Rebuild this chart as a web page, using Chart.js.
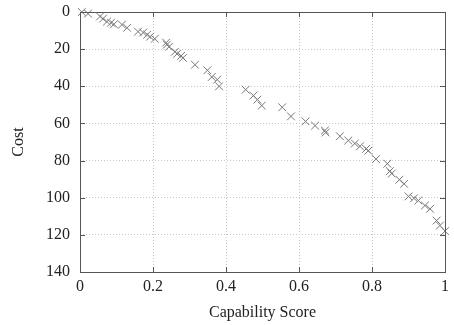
<!DOCTYPE html>
<html lang="en">
<head>
    <meta charset="UTF-8">
    <title>Cost vs Capability Score</title>
    <script src="https://cdn.jsdelivr.net/npm/chart.js"></script>
    <style>
        body {
            margin: 0;
            background: #fff;
        }
        .chart-box {
            width: 454px;
            height: 325px;
        }
    </style>
</head>
<body>
    <div class="chart-box">
        <canvas id="costChart" width="454" height="325"></canvas>
    </div>

    <script>
        // values
        const capabilityScore = [
            0.005, 0.022, 0.055, 0.063, 0.074, 0.085, 0.093, 0.115, 0.129, 0.159,
            0.173, 0.184, 0.192, 0.205, 0.236, 0.238, 0.244, 0.26, 0.266, 0.277,
            0.282, 0.315, 0.349, 0.361, 0.376, 0.381, 0.454, 0.475, 0.486, 0.498,
            0.554, 0.578, 0.618, 0.644, 0.671, 0.673, 0.712, 0.735, 0.753, 0.767,
            0.784, 0.79, 0.811, 0.842, 0.849, 0.854, 0.875, 0.888, 0.9, 0.915,
            0.927, 0.945, 0.959, 0.977, 0.986, 1.0
        ];
        const cost = [
            0, 0.9, 2.4, 3.6, 5.2, 5.8, 6.6, 6.8, 8.5, 10.6,
            11.1, 12.2, 13.3, 14.4, 16.5, 17.6, 18.7, 21.4, 22.5, 23.6,
            24.7, 28.4, 31.4, 35, 36.4, 40, 41.8, 45, 47.2, 50.4,
            51.3, 56.2, 58.9, 61.2, 63.8, 64.9, 66.9, 69.2, 70.8, 72.3,
            73.7, 74.7, 79.2, 81.7, 85.7, 87, 90.3, 92.5, 99.3, 100.3,
            101.5, 104.2, 106, 112.3, 115, 118
        ];
        const xTicks = [0, 0.2, 0.4, 0.6, 0.8, 1];
        const yTicks = [0, 20, 40, 60, 80, 100, 120, 140];

        const points = capabilityScore.map((x, i) => ({ x: x, y: cost[i] }));
        const serif = "'Liberation Serif', 'DejaVu Serif', serif";

        // full frame with short inward tick marks on all four sides
        const framePlugin = {
            id: 'frame',
            afterDatasetsDraw(chart) {
                const ctx = chart.ctx;
                const a = chart.chartArea;
                const xs = chart.scales.x;
                const ys = chart.scales.y;
                const len = 5;
                ctx.save();
                ctx.strokeStyle = '#555';
                ctx.lineWidth = 1;
                ctx.beginPath();
                xTicks.forEach(v => {
                    const px = Math.round(xs.getPixelForValue(v)) + 0.5;
                    ctx.moveTo(px, a.bottom); ctx.lineTo(px, a.bottom - len);
                    ctx.moveTo(px, a.top); ctx.lineTo(px, a.top + len);
                });
                yTicks.forEach(v => {
                    const py = Math.round(ys.getPixelForValue(v)) + 0.5;
                    ctx.moveTo(a.left, py); ctx.lineTo(a.left + len, py);
                    ctx.moveTo(a.right, py); ctx.lineTo(a.right - len, py);
                });
                ctx.stroke();
                ctx.strokeRect(Math.round(a.left) + 0.5, Math.round(a.top) + 0.5,
                    Math.round(a.right - a.left), Math.round(a.bottom - a.top));
                ctx.restore();
            }
        };

        new Chart(document.getElementById('costChart'), {
            type: 'scatter',
            data: {
                datasets: [{
                    data: points,
                    clip: false,
                    pointStyle: 'crossRot',
                    pointRadius: 5.5,
                    pointBorderWidth: 1,
                    borderColor: '#777',
                    backgroundColor: '#777'
                }]
            },
            options: {
                responsive: false,
                animation: false,
                layout: { padding: { top: 12, right: 9, left: 0, bottom: 0 } },
                plugins: {
                    legend: { display: false },
                    tooltip: { enabled: false }
                },
                scales: {
                    x: {
                        type: 'linear',
                        min: 0,
                        max: 1,
                        afterBuildTicks(scale) {
                            scale.ticks = xTicks.map(v => ({ value: v }));
                        },
                        afterFit(scale) {
                            scale.height = 53;
                            scale.paddingLeft = 0;
                            scale.paddingRight = 0;
                        },
                        grid: {
                            color: '#c8c8c8',
                            drawTicks: false
                        },
                        border: { display: false, dash: [1, 2] },
                        ticks: {
                            padding: 5,
                            color: '#222',
                            font: { family: serif, size: 16 },
                            callback: v => String(v)
                        },
                        title: {
                            display: true,
                            text: 'Capability Score',
                            color: '#222',
                            font: { family: serif, size: 16 },
                            padding: { top: 0, bottom: 3 }
                        }
                    },
                    y: {
                        type: 'linear',
                        reverse: true,
                        min: 0,
                        max: 140,
                        afterBuildTicks(scale) {
                            scale.ticks = yTicks.map(v => ({ value: v }));
                        },
                        afterFit(scale) {
                            scale.width = 80;
                            scale.paddingTop = 0;
                            scale.paddingBottom = 0;
                        },
                        grid: {
                            color: '#c8c8c8',
                            drawTicks: false
                        },
                        border: { display: false, dash: [1, 2] },
                        ticks: {
                            padding: 10,
                            color: '#222',
                            font: { family: serif, size: 16 }
                        },
                        title: {
                            display: true,
                            text: 'Cost',
                            color: '#222',
                            font: { family: serif, size: 16 },
                            padding: { top: 9, bottom: 0 }
                        }
                    }
                }
            },
            plugins: [framePlugin]
        });
    </script>
</body>
</html>
